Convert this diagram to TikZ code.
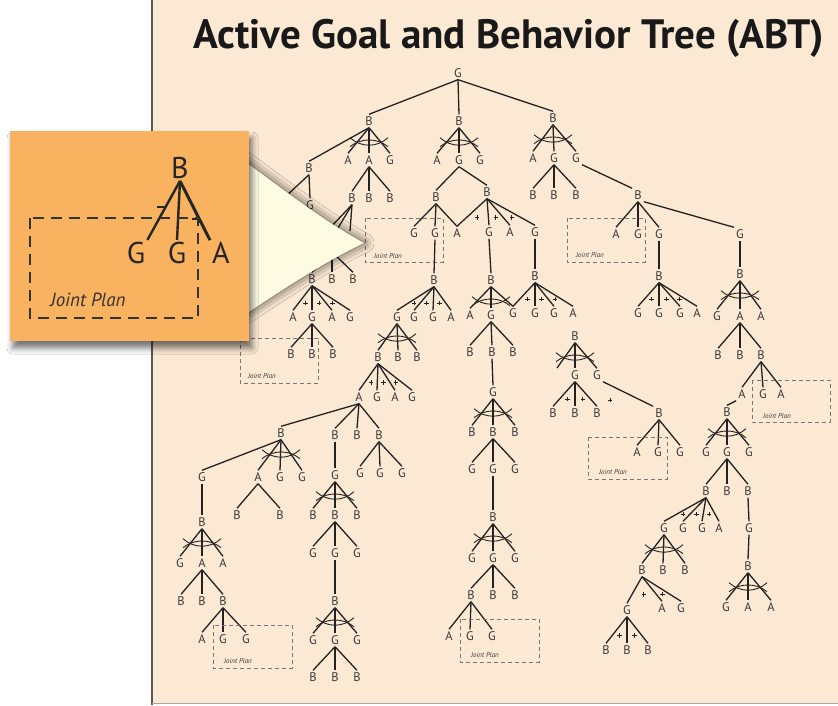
\documentclass[tikz,border=0pt]{standalone}
\usepackage{fontspec}
\setmainfont{PT Sans}
\usetikzlibrary{calc,shadows.blur}
\definecolor{panel}{HTML}{FCE9D3}
\definecolor{insetbg}{HTML}{F9B25F}
\definecolor{callout}{HTML}{FDFBE2}
\definecolor{ink}{HTML}{3A3A3A}
\definecolor{lin}{HTML}{222222}
\definecolor{dashc}{HTML}{7A7470}

\tikzset{
  t/.style={font=\fontsize{12.5}{12.5}\selectfont, text=ink, inner sep=2pt,
            text height=9pt, text depth=0pt},
  e/.style={draw=lin, line width=1.3pt},
  jp/.style={draw=dashc, line width=0.8pt, dash pattern=on 4pt off 3pt},
  jpl/.style={font=\itshape\fontsize{7}{7}\selectfont, text=ink, inner sep=0pt},
  andsym/.pic={
    \draw[lin, line width=0.9pt] (-19,19) .. controls (-8,10) and (8,10) .. (19,19);
    \draw[lin, line width=0.9pt] (-19,10) .. controls (-8,20) and (8,20) .. (19,10);
  },
}
% edges from one parent to several children
\newcommand\tfan[2]{\foreach \kid in {#2}{\draw[e] (#1.south) -- (\kid.north);}}
% small plus between two neighbouring legs of a sequence fan
\newcommand\seqm[3]{\path ($(#2.north)!.5!(#3.north)$) coordinate (sqm);
  \draw[lin, line width=0.8pt] ($(#1.south)!.7!(sqm)$) +(-2.2,0) -- +(2.2,0) +(0,-2.2) -- +(0,2.2);}
% crossed arcs under an alternative node
\newcommand\andx[1]{\pic at (#1.south) {andsym};}

\begin{document}
\begin{tikzpicture}[x=1pt,y=-1pt]
\useasboundingbox (0,0) rectangle (838,705);
\fill[white] (0,0) rectangle (838,705);
\fill[panel] (152,0) rectangle (838,703.5);
\draw[black!65, line width=2pt] (152,0) -- (152,705);
\draw[black!35, line width=1pt] (152,703.5) -- (838,703.5);

\node[font=\bfseries\fontsize{41}{41}\selectfont, text=black!90] (title) at (509,38)
  {Active Goal and Behavior Tree (ABT)};

% ---------------- root ----------------
\node[t] (g0) at (458,73) {G};
\node[t] (bL) at (369,121) {B};
\node[t] (bM) at (459,121) {B};
\node[t] (bR) at (553,118) {B};
\tfan{g0}{bL,bM,bR}

% ---------------- left branch ----------------
\node[t] (bL1) at (309,168) {B};
\node[t] (bL2) at (348,160) {A};
\node[t] (bL3) at (369,160) {A};
\node[t] (bL4) at (390,160) {G};
\tfan{bL}{bL1,bL2,bL3,bL4} \andx{bL}
\node[t] (lb1) at (352,198) {B};
\node[t] (lb2) at (369,198) {B};
\node[t] (lb3) at (390,198) {B};
\tfan{bL3}{lb1,lb2,lb3}
\node[t] (lg) at (310,205) {G};
\coordinate (lh1) at (285,197);
\draw[e] (bL1.south) -- (lh1);
\tfan{bL1}{lg}
\coordinate (lh2) at (327,231);
\coordinate (lh3) at (338,228);
\coordinate (lh4) at (350,231);
\foreach \kid in {lh2,lh3,lh4}{\draw[e] (lb1.south) -- (\kid);}
\coordinate (hq) at (332,252);
\node[t] (bb1) at (312,279) {B};
\node[t] (bb2) at (332,279) {B};
\node[t] (bb3) at (353,279) {B};
\foreach \kid in {bb1,bb2,bb3}{\draw[e] (hq) -- (\kid.north);}
\node[t] (c1) at (293,317) {A};
\node[t] (c2) at (312,317) {G};
\node[t] (c3) at (332,317) {A};
\node[t] (c4) at (350,317) {G};
\tfan{bb1}{c1,c2,c3,c4}
\seqm{bb1}{c1}{c2} \seqm{bb1}{c2}{c3} \seqm{bb1}{c3}{c4}
\node[t] (d1) at (291,354) {B};
\node[t] (d2) at (312,354) {B};
\node[t] (d3) at (333,354) {B};
\tfan{c2}{d1,d2,d3}
\draw[jp] (240,338) rectangle (318,383);
\node[jpl] (jp1) at (262,376) {Joint Plan};

% ---------------- middle branch ----------------
\node[t] (m1) at (437,160) {A};
\node[t] (m2) at (459,160) {G};
\node[t] (m3) at (480,160) {G};
\tfan{bM}{m1,m2,m3} \andx{bM}
\node[t] (ma) at (436,197) {B};
\node[t] (mb) at (487,192) {B};
\tfan{m2}{ma,mb}
\node[t] (n1) at (414,233) {G};
\node[t] (n2) at (435,233) {G};
\node[t] (n3) at (457,233) {A};
\node[t] (n4) at (489,232) {G};
\node[t] (n5) at (510,232) {A};
\node[t] (n6) at (535,232) {G};
\tfan{ma}{n1,n2,n3}
\tfan{mb}{n3,n4,n5,n6}
\seqm{mb}{n3}{n4} \seqm{mb}{n4}{n5} \seqm{mb}{n5}{n6}
\draw[jp] (365,218) rectangle (443,262);
\node[jpl] (jp2) at (388,256) {Joint Plan};

\node[t] (o1) at (434,280) {B};
\tfan{n2}{o1}
\node[t] (p1) at (397,317) {G};
\node[t] (p2) at (414,317) {G};
\node[t] (p3) at (433,317) {G};
\node[t] (p4) at (451,317) {A};
\tfan{o1}{p1,p2,p3,p4}
\seqm{o1}{p1}{p2} \seqm{o1}{p2}{p3} \seqm{o1}{p3}{p4}
\node[t] (q1) at (378,357) {B};
\node[t] (q2) at (398,357) {B};
\node[t] (q3) at (417,357) {B};
\tfan{p1}{q1,q2,q3} \andx{p1}
\node[t] (qa1) at (359,397) {A};
\node[t] (qa2) at (377,397) {G};
\node[t] (qa3) at (395,397) {A};
\node[t] (qa4) at (412,397) {G};
\tfan{q1}{qa1,qa2,qa3,qa4}
\seqm{q1}{qa1}{qa2} \seqm{q1}{qa2}{qa3} \seqm{q1}{qa3}{qa4}
\node[t] (s1) at (281,433) {B};
\node[t] (s2) at (335,435) {B};
\node[t] (s3) at (357,435) {B};
\node[t] (s4) at (379,435) {B};
\tfan{qa1}{s1,s2,s3,s4}
\node[t] (t1) at (202,477) {G};
\node[t] (t2) at (258,477) {A};
\node[t] (t3) at (280,477) {G};
\node[t] (t4) at (302,477) {G};
\tfan{s1}{t1,t2,t3,t4} \andx{s1}
\node[t] (u1) at (237,515) {B};
\node[t] (u2) at (280,515) {B};
\tfan{t2}{u1,u2}
\node[t] (v1) at (202,522) {B};
\tfan{t1}{v1}
\node[t] (w1) at (180,563) {G};
\node[t] (w2) at (202,563) {A};
\node[t] (w3) at (223,563) {A};
\tfan{v1}{w1,w2,w3} \andx{v1}
\node[t] (x1) at (181,601) {B};
\node[t] (x2) at (202,601) {B};
\node[t] (x3) at (223,601) {B};
\tfan{w2}{x1,x2,x3}
\node[t] (y1) at (202,639) {A};
\node[t] (y2) at (223,639) {G};
\node[t] (y3) at (246,639) {G};
\tfan{x3}{y1,y2,y3}
\draw[jp] (213,625) rectangle (292,668);
\node[jpl] (jp3) at (238,661) {Joint Plan};

\node[t] (sa) at (335,475) {G};
\tfan{s2}{sa}
\node[t] (z1) at (313,515) {B};
\node[t] (z2) at (335,515) {B};
\node[t] (z3) at (357,515) {B};
\tfan{sa}{z1,z2,z3} \andx{sa}
\node[t] (za) at (313,553) {G};
\node[t] (zb) at (335,553) {G};
\node[t] (zc) at (357,553) {G};
\tfan{z2}{za,zb,zc}
\node[t] (zd) at (335,601) {B};
\tfan{zb}{zd}
\node[t] (ze) at (313,640) {G};
\node[t] (zf) at (335,640) {G};
\node[t] (zg) at (357,640) {G};
\tfan{zd}{ze,zf,zg} \andx{zd}
\node[t] (zh) at (313,677) {B};
\node[t] (zi) at (335,677) {B};
\node[t] (zj) at (357,677) {B};
\tfan{zf}{zh,zi,zj}
\node[t] (sb1) at (360,473) {G};
\node[t] (sb2) at (380,473) {G};
\node[t] (sb3) at (402,473) {G};
\tfan{s4}{sb1,sb2,sb3}

% chain under the G of the right-hand sequence
\node[t] (e1) at (491,280) {B};
\tfan{n4}{e1}
\node[t] (f0) at (535,276) {B};
\tfan{n6}{f0}
\node[t] (e2) at (470,315) {A};
\node[t] (e3) at (491,315) {G};
\node[t] (f1) at (513,313) {G};
\node[t] (f2) at (535,313) {G};
\node[t] (f3) at (554,313) {G};
\node[t] (f4) at (573,313) {A};
\tfan{e1}{e2,e3,f1} \andx{e1}
\tfan{f0}{f1,f2,f3,f4}
\seqm{f0}{f1}{f2} \seqm{f0}{f2}{f3} \seqm{f0}{f3}{f4}
\node[t] (e4) at (470,352) {B};
\node[t] (e5) at (492,352) {B};
\node[t] (e6) at (513,352) {B};
\tfan{e3}{e4,e5,e6}
\node[t] (e7) at (493,392) {G};
\tfan{e5}{e7}
\node[t] (e8) at (472,432) {B};
\node[t] (e9) at (493,432) {B};
\node[t] (e10) at (515,432) {B};
\tfan{e7}{e8,e9,e10} \andx{e7}
\node[t] (e11) at (472,469) {G};
\node[t] (e12) at (493,469) {G};
\node[t] (e13) at (515,469) {G};
\tfan{e9}{e11,e12,e13}
\node[t] (e14) at (493,517) {B};
\tfan{e12}{e14}
\node[t] (e15) at (472,558) {G};
\node[t] (e16) at (493,558) {G};
\node[t] (e17) at (515,558) {G};
\tfan{e14}{e15,e16,e17} \andx{e14}
\node[t] (e18) at (471,595) {B};
\node[t] (e19) at (493,595) {B};
\node[t] (e20) at (515,595) {B};
\tfan{e16}{e18,e19,e20}
\node[t] (e21) at (449,636) {A};
\node[t] (e22) at (470,636) {G};
\node[t] (e23) at (492,636) {G};
\tfan{e18}{e21,e22,e23}
\draw[jp] (460,619) rectangle (539,662);
\node[jpl] (jp4) at (485,655) {Joint Plan};

% detached alternative
\node[t] (k0) at (575,336) {B};
\coordinate (kx) at (557,368);
\node[t] (k2) at (575,375) {G};
\node[t] (k3) at (597,375) {G};
\draw[e] (k0.south) -- (kx);
\tfan{k0}{k2,k3} \andx{k0}
\node[t] (k4) at (553,413) {B};
\node[t] (k5) at (575,413) {B};
\node[t] (k6) at (597,413) {B};
\tfan{k2}{k4,k5,k6}
\seqm{k2}{k4}{k5} \seqm{k2}{k5}{k6}
\draw[lin, line width=0.8pt] (610,400) +(-2.2,0) -- +(2.2,0) +(0,-2.2) -- +(0,2.2);
\node[t] (k7) at (659,413) {B};
\draw[e] (k3.south east) -- (k7.north west);
\node[t] (k8) at (637,452) {A};
\node[t] (k9) at (658,452) {G};
\node[t] (k10) at (680,452) {G};
\tfan{k7}{k8,k9,k10}
\draw[jp] (588,437) rectangle (667,479);
\node[jpl] (jp5) at (613,472) {Joint Plan};

% ---------------- right branch ----------------
\node[t] (ra1) at (533,158) {A};
\node[t] (ra2) at (554,158) {G};
\node[t] (ra3) at (576,158) {G};
\tfan{bR}{ra1,ra2,ra3} \andx{bR}
\node[t] (rb1) at (533,195) {B};
\node[t] (rb2) at (554,195) {B};
\node[t] (rb3) at (576,195) {B};
\tfan{ra2}{rb1,rb2,rb3}
\node[t] (rc) at (638,195) {B};
\draw[e] (ra3.south east) -- (rc.north west);
\node[t] (rd1) at (616,234) {A};
\node[t] (rd2) at (638,234) {G};
\node[t] (rd3) at (659,234) {G};
\node[t] (rd4) at (740,234) {G};
\tfan{rc}{rd1,rd2,rd3}
\draw[e] (rc.south east) -- (rd4.north west);
\draw[jp] (567,218) rectangle (645,262);
\node[jpl] (jp6) at (590,255) {Joint Plan};
\node[t] (re) at (659,276) {B};
\tfan{rd3}{re}
\node[t] (rf1) at (638,313) {G};
\node[t] (rf2) at (659,313) {G};
\node[t] (rf3) at (680,313) {G};
\node[t] (rf4) at (697,313) {A};
\tfan{re}{rf1,rf2,rf3,rf4}
\seqm{re}{rf1}{rf2} \seqm{re}{rf2}{rf3} \seqm{re}{rf3}{rf4}
\node[t] (rg) at (740,274) {B};
\tfan{rd4}{rg}
\node[t] (rh1) at (717,316) {G};
\node[t] (rh2) at (740,316) {A};
\node[t] (rh3) at (761,316) {A};
\tfan{rg}{rh1,rh2,rh3} \andx{rg}
\node[t] (ri1) at (718,355) {B};
\node[t] (ri2) at (740,355) {B};
\node[t] (ri3) at (761,355) {B};
\tfan{rh2}{ri1,ri2,ri3}
\node[t] (rj1) at (742,394) {A};
\node[t] (rj2) at (763,394) {G};
\node[t] (rj3) at (781,394) {A};
\tfan{ri3}{rj1,rj2,rj3}
\draw[jp] (752,380) rectangle (830,422);
\node[jpl] (jp7) at (777,416) {Joint Plan};
\node[t] (rk) at (727,412) {B};
\draw[e] (rj1.south west) -- (rk.north);
\node[t] (rl1) at (706,452) {G};
\node[t] (rl2) at (727,452) {G};
\node[t] (rl3) at (749,452) {G};
\tfan{rk}{rl1,rl2,rl3} \andx{rk}
\node[t] (rm1) at (706,491) {B};
\node[t] (rm2) at (727,491) {B};
\node[t] (rm3) at (748,491) {B};
\tfan{rl2}{rm1,rm2,rm3}
\node[t] (rn1) at (664,528) {G};
\node[t] (rn2) at (683,528) {G};
\node[t] (rn3) at (702,528) {G};
\node[t] (rn4) at (719,528) {A};
\tfan{rm1}{rn1,rn2,rn3,rn4}
\seqm{rm1}{rn1}{rn2} \seqm{rm1}{rn2}{rn3} \seqm{rm1}{rn3}{rn4}
\node[t] (ro) at (749,528) {G};
\tfan{rm3}{ro}
\node[t] (rp) at (748,566) {B};
\tfan{ro}{rp}
\node[t] (rq1) at (726,607) {G};
\node[t] (rq2) at (748,607) {A};
\node[t] (rq3) at (771,607) {A};
\tfan{rp}{rq1,rq2,rq3} \andx{rp}
\node[t] (rr1) at (642,570) {B};
\node[t] (rr2) at (663,570) {B};
\node[t] (rr3) at (685,570) {B};
\tfan{rn1}{rr1,rr2,rr3} \andx{rn1}
\node[t] (rs1) at (627,610) {G};
\node[t] (rs2) at (662,608) {A};
\node[t] (rs3) at (681,608) {G};
\tfan{rr1}{rs1,rs2,rs3}
\seqm{rr1}{rs1}{rs2} \seqm{rr1}{rs2}{rs3}
\node[t] (rt1) at (606,650) {B};
\node[t] (rt2) at (627,650) {B};
\node[t] (rt3) at (648,650) {B};
\tfan{rs1}{rt1,rt2,rt3}
\seqm{rs1}{rt1}{rt2} \seqm{rs1}{rt2}{rt3}

% ---------------- magnifier callout ----------------
\path[fill=callout, blur shadow={shadow xshift=0pt, shadow yshift=0pt,
      shadow blur radius=10pt, shadow opacity=75}]
  (240,158) .. controls (287,192) and (322,220) .. (364,243)
  .. controls (332,258) and (290,284) .. (240,318) -- cycle;

% ---------------- enlarged inset ----------------
\path[fill=insetbg, blur shadow={shadow xshift=3pt, shadow yshift=-7pt,
      shadow blur radius=6pt, shadow opacity=55}]
  (10,131) rectangle (249,341);
\node[font=\fontsize{30}{30}\selectfont, text=black!85, inner sep=2pt] (ib) at (180,168) {B};
\node[font=\fontsize{30}{30}\selectfont, text=black!85, inner sep=2pt] (ig1) at (136,253) {G};
\node[font=\fontsize{30}{30}\selectfont, text=black!85, inner sep=2pt] (ig2) at (177,253) {G};
\node[font=\fontsize{30}{30}\selectfont, text=black!85, inner sep=2pt] (ia3) at (221,253) {A};
\draw[black!85, line width=2.4pt] (ib.south) -- (ig1.north east);
\draw[black!85, line width=2.4pt] (ib.south) -- (ig2.north);
\draw[black!85, line width=3pt] (ib.south) -- (ia3.north west);
\draw[black!85, line width=1.6pt] (157,207) -- (165,207);
\draw[black!85, line width=1.6pt] (192,219) -- (199,219) -- (199,223);
\draw[black!80, line width=1.6pt, dash pattern=on 11pt off 7pt] (30,218) rectangle (198,318);
\node[font=\itshape\fontsize{19}{19}\selectfont, text=black!80, inner sep=0pt] (ijp) at (88,300) {Joint Plan};
\end{tikzpicture}
\end{document}
